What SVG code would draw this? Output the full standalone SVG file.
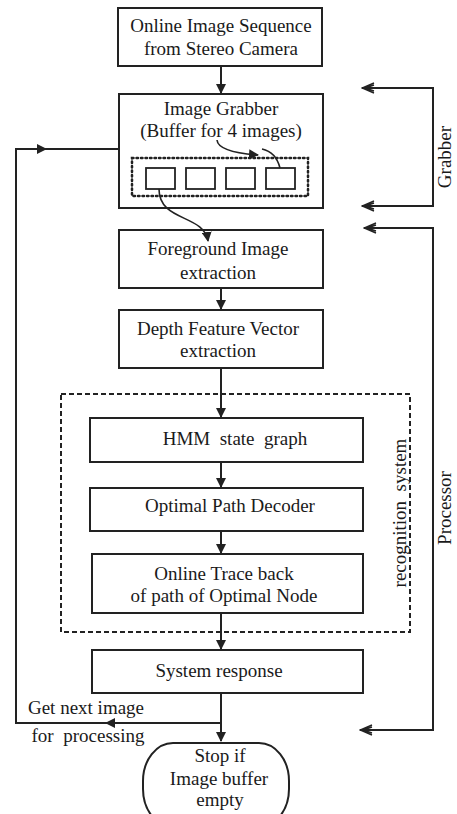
<svg xmlns="http://www.w3.org/2000/svg" width="457" height="814" viewBox="0 0 457 814">
  <style>
    .box { fill: #fff; stroke: #222; stroke-width: 2; }
    .line { fill: none; stroke: #222; stroke-width: 2; }
    .thin { fill: none; stroke: #222; stroke-width: 1.6; }
    .dash { fill: none; stroke: #222; stroke-width: 2; stroke-dasharray: 5 3; }
    .dots { fill: none; stroke: #222; stroke-width: 2.5; stroke-dasharray: 1.5 3; stroke-linecap: round; }
    .cell { fill: #fff; stroke: #222; stroke-width: 1.8; }
    text { font-family: "Liberation Serif", "Times New Roman", serif; font-size: 19px; fill: #1a1a1a; text-anchor: middle; }
  </style>
  <defs>
    <marker id="arrow" viewBox="0 0 10 10" refX="9" refY="5" markerWidth="10" markerHeight="10" markerUnits="userSpaceOnUse" orient="auto">
      <path d="M0 0 L10 5 L0 10 z" fill="#222"/>
    </marker>
    <marker id="open" viewBox="0 0 14 12" refX="13" refY="6" markerWidth="14" markerHeight="12" markerUnits="userSpaceOnUse" orient="auto-start-reverse">
      <path d="M1 1 L13 6 L1 11 M1 3 L10 6 L1 9" fill="none" stroke="#222" stroke-width="1.4"/>
    </marker>
  </defs>
  <rect width="457" height="814" fill="#fff"/>

  <g id="recognition-system">
    <rect class="dash" x="61" y="394" width="349" height="238"/>
    <text transform="translate(406 513) rotate(-90)" xml:space="preserve">recognition  system</text>
  </g>

  <g id="online-image-sequence">
    <rect class="box" x="118" y="8" width="204" height="58"/>
    <text x="221" y="32">Online Image Sequence</text>
    <text x="221" y="55">from Stereo Camera</text>
  </g>

  <g id="image-grabber">
    <rect class="box" x="119" y="94" width="204" height="114"/>
    <text x="221" y="115">Image Grabber</text>
    <text x="221" y="137">(Buffer for 4 images)</text>
    <rect class="dots" x="132" y="158" width="176" height="38"/>
    <rect class="cell" x="146" y="168" width="29" height="21"/>
    <rect class="cell" x="186" y="168" width="29" height="21"/>
    <rect class="cell" x="226" y="168" width="29" height="21"/>
    <rect class="cell" x="266" y="168" width="29" height="21"/>
  </g>

  <g id="foreground-image">
    <rect class="box" x="119" y="230" width="204" height="58"/>
    <text x="218" y="255">Foreground Image</text>
    <text x="218" y="279">extraction</text>
  </g>

  <g id="depth-feature-vector">
    <rect class="box" x="119" y="310" width="204" height="58"/>
    <text x="218" y="335">Depth Feature Vector</text>
    <text x="218" y="357">extraction</text>
  </g>

  <g id="hmm-state-graph">
    <rect class="box" x="90" y="418" width="273" height="44"/>
    <text x="235" y="445" xml:space="preserve">HMM  state  graph</text>
  </g>

  <g id="optimal-path-decoder">
    <rect class="box" x="90" y="488" width="273" height="43"/>
    <text x="230" y="512">Optimal Path Decoder</text>
  </g>

  <g id="online-trace-back">
    <rect class="box" x="92" y="554" width="271" height="59"/>
    <text x="224" y="580">Online Trace back</text>
    <text x="224" y="602">of path of Optimal Node</text>
  </g>

  <g id="system-response">
    <rect class="box" x="92" y="650" width="271" height="43"/>
    <text x="219" y="677">System response</text>
  </g>

  <g id="loop-label">
    <text x="86" y="714">Get next image</text>
    <text x="88" y="742" xml:space="preserve">for  processing</text>
  </g>

  <g id="stop">
    <rect class="box" x="143" y="743" width="146" height="84" rx="30" ry="38"/>
    <text x="220" y="762">Stop if</text>
    <text x="219" y="785">Image buffer</text>
    <text x="220" y="806">empty</text>
  </g>

  <g id="bracket-labels">
    <text transform="translate(451 157) rotate(-90)">Grabber</text>
    <text transform="translate(451 508) rotate(-90)">Processor</text>
  </g>

  <!-- connectors -->
  <g id="connectors">
    <line class="line" x1="221" y1="66" x2="221" y2="93" marker-end="url(#arrow)"/>
    <line class="line" x1="221" y1="288" x2="221" y2="309" marker-end="url(#arrow)"/>
    <line class="line" x1="221" y1="368" x2="221" y2="417" marker-end="url(#arrow)"/>
    <line class="line" x1="221" y1="462" x2="221" y2="487" marker-end="url(#arrow)"/>
    <line class="line" x1="221" y1="531" x2="221" y2="553" marker-end="url(#arrow)"/>
    <line class="line" x1="221" y1="613" x2="221" y2="649" marker-end="url(#arrow)"/>
    <line class="line" x1="221" y1="693" x2="221" y2="741" marker-end="url(#arrow)"/>
    <!-- loop back for the next image -->
    <path class="line" d="M221 723 H16 V149 H118"/>
    <line class="line" x1="140" y1="723" x2="106" y2="723" marker-end="url(#arrow)"/>
    <line class="line" x1="16" y1="149" x2="46" y2="149" marker-end="url(#arrow)"/>
    <!-- buffer curves -->
    <path class="thin" d="M217 140 Q218 152 258 155" marker-end="url(#arrow)"/>
    <path class="thin" d="M280 168 Q276 152 262 149"/>
    <path class="thin" d="M159 189 C159 222 204 214 208 241" marker-end="url(#arrow)"/>
    <!-- Grabber bracket -->
    <path class="line" d="M362 88 H433 V206 H362" marker-start="url(#open)" marker-end="url(#open)"/>
    <!-- Processor bracket -->
    <path class="line" d="M364 228 H433 V730 H360" marker-start="url(#open)" marker-end="url(#open)"/>
  </g>
</svg>
